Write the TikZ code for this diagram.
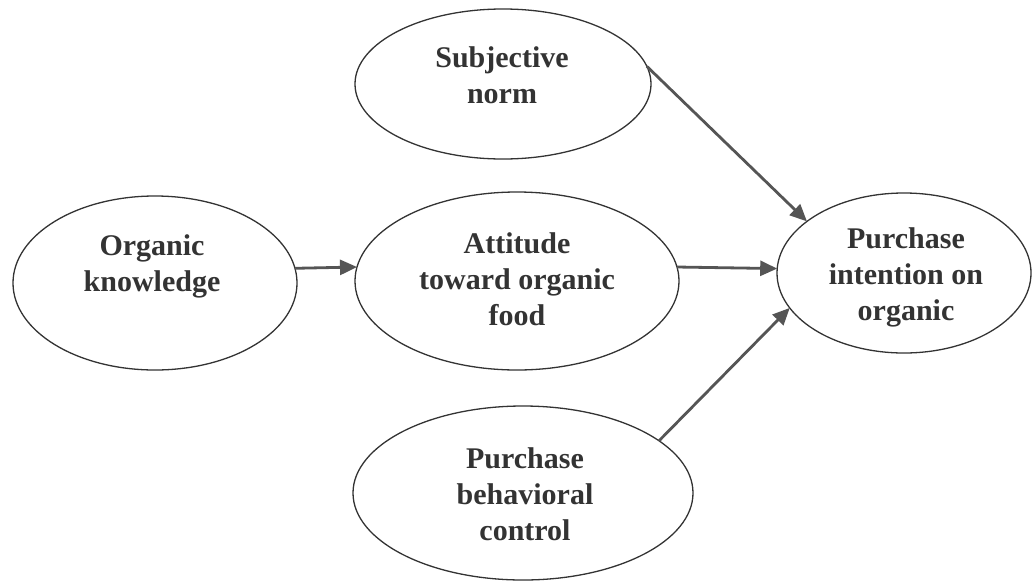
\documentclass[tikz,border=0pt]{standalone}
\usepackage{fontspec}
\setmainfont{Liberation Serif}
\usetikzlibrary{shapes.geometric,arrows.meta}
\definecolor{inkc}{HTML}{333333}
\definecolor{arrc}{HTML}{555555}
\tikzset{
  oval/.style={draw=inkc, line width=1.3pt, ellipse, inner sep=0pt, outer sep=0pt},
  lbl/.style={align=center, text=inkc, font=\fontsize{30}{36}\selectfont\bfseries, inner sep=0pt},
  arr/.style={draw=arrc, line width=2.8pt, -{Triangle[length=17pt,width=15pt]}}
}
\begin{document}
\begin{tikzpicture}[x=1pt,y=-1pt]
\useasboundingbox (0,0) rectangle (1033,584);
\node[oval, minimum width=296pt, minimum height=150pt] (sn) at (503,84) {};
\node[oval, minimum width=284pt, minimum height=174pt] (ok) at (155,283) {};
\node[oval, minimum width=324pt, minimum height=178pt] (att) at (517,281) {};
\node[oval, minimum width=254pt, minimum height=160pt] (pi) at (904,273) {};
\node[oval, minimum width=340pt, minimum height=174pt] (pbc) at (523,493) {};
\node[lbl] (snt) at (502,75) {Subjective\\norm};
\node[lbl] (okt) at (152,266) {Organic\\knowledge};
\node[lbl] (attt) at (517,279) {Attitude\\toward organic\\food};
\node[lbl] (pit) at (906,277) {Purchase\\intention on\\organic};
\node[lbl] (pbct) at (525,494) {Purchase\\behavioral\\control};
\draw[arr] (ok.6) -- (att.175);
\draw[arr] (att.5) -- (pi.178);
\draw[arr] (sn.7) -- (pi.152);
\draw[arr] (pbc.21) -- (pi.197);
\end{tikzpicture}
\end{document}
